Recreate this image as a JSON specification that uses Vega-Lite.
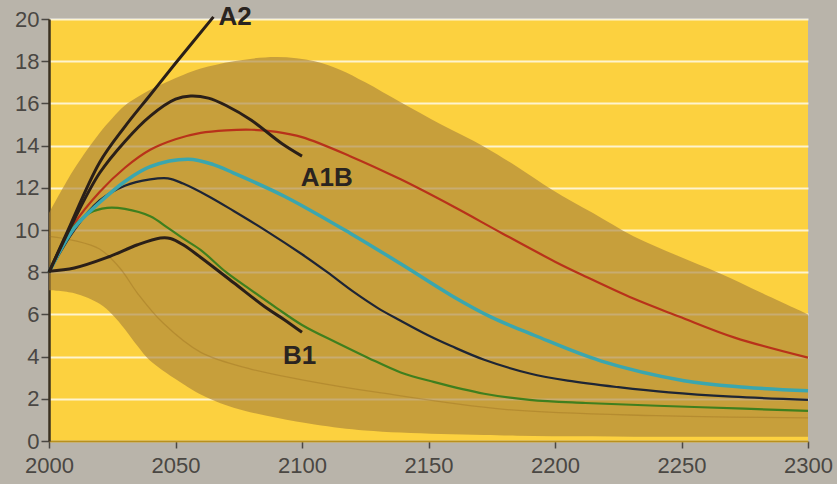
{
  "$schema": "https://vega.github.io/schema/vega-lite/v6.json",
  "width": 759,
  "height": 422,
  "autosize": {"type": "none"},
  "padding": {"left": 49, "top": 19, "right": 29, "bottom": 43},
  "background": "#b9b4aa",
  "config": {"view": {"fill": "#fcd13f", "stroke": null}, "font": "Liberation Sans"},
  "datasets": {
    "band": [
      {"year": 2000, "hi": 10.8, "lo": 7.14},
      {"year": 2010, "hi": 12.9, "lo": 7.0},
      {"year": 2020, "hi": 14.6, "lo": 6.5},
      {"year": 2025, "hi": 15.3, "lo": 6.0},
      {"year": 2030, "hi": 15.9, "lo": 5.3},
      {"year": 2035, "hi": 16.3, "lo": 4.5},
      {"year": 2040, "hi": 16.65, "lo": 3.8},
      {"year": 2053, "hi": 17.35, "lo": 2.7},
      {"year": 2060, "hi": 17.65, "lo": 2.2},
      {"year": 2073, "hi": 18.0, "lo": 1.57},
      {"year": 2090, "hi": 18.2, "lo": 1.1},
      {"year": 2105, "hi": 18.0, "lo": 0.78},
      {"year": 2115, "hi": 17.6, "lo": 0.62},
      {"year": 2125, "hi": 17.0, "lo": 0.5},
      {"year": 2139, "hi": 16.05, "lo": 0.4},
      {"year": 2155, "hi": 15.0, "lo": 0.33},
      {"year": 2172, "hi": 13.95, "lo": 0.28},
      {"year": 2185, "hi": 13.0, "lo": 0.25},
      {"year": 2199, "hi": 11.9, "lo": 0.23},
      {"year": 2215, "hi": 10.8, "lo": 0.22},
      {"year": 2231, "hi": 9.7, "lo": 0.2},
      {"year": 2248, "hi": 8.8, "lo": 0.2},
      {"year": 2265, "hi": 7.95, "lo": 0.2},
      {"year": 2282, "hi": 7.0, "lo": 0.2},
      {"year": 2300, "hi": 6.0, "lo": 0.2}
    ],
    "inner": [
      {"year": 2000, "value": 9.7},
      {"year": 2010, "value": 9.5},
      {"year": 2020, "value": 9.1},
      {"year": 2028, "value": 8.2},
      {"year": 2035, "value": 7.0},
      {"year": 2045, "value": 5.6},
      {"year": 2060, "value": 4.2},
      {"year": 2080, "value": 3.4},
      {"year": 2100, "value": 2.9},
      {"year": 2130, "value": 2.3},
      {"year": 2180, "value": 1.5},
      {"year": 2240, "value": 1.2},
      {"year": 2300, "value": 1.1}
    ],
    "lines": [
      {"series": "A2", "year": 2000, "value": 8.0},
      {"series": "A2", "year": 2007, "value": 9.85},
      {"series": "A2", "year": 2020, "value": 13.2},
      {"series": "A2", "year": 2030, "value": 14.9},
      {"series": "A2", "year": 2040, "value": 16.4},
      {"series": "A2", "year": 2050, "value": 17.9},
      {"series": "A2", "year": 2065, "value": 20.1},

      {"series": "A1B-high", "year": 2000, "value": 8.0},
      {"series": "A1B-high", "year": 2010, "value": 10.5},
      {"series": "A1B-high", "year": 2020, "value": 12.7},
      {"series": "A1B-high", "year": 2030, "value": 14.2},
      {"series": "A1B-high", "year": 2040, "value": 15.4},
      {"series": "A1B-high", "year": 2050, "value": 16.2},
      {"series": "A1B-high", "year": 2056, "value": 16.35},
      {"series": "A1B-high", "year": 2063, "value": 16.25},
      {"series": "A1B-high", "year": 2070, "value": 15.9},
      {"series": "A1B-high", "year": 2080, "value": 15.2},
      {"series": "A1B-high", "year": 2092, "value": 14.1},
      {"series": "A1B-high", "year": 2100, "value": 13.5},

      {"series": "red", "year": 2000, "value": 8.0},
      {"series": "red", "year": 2010, "value": 10.3},
      {"series": "red", "year": 2020, "value": 11.8},
      {"series": "red", "year": 2030, "value": 12.95},
      {"series": "red", "year": 2040, "value": 13.8},
      {"series": "red", "year": 2050, "value": 14.3},
      {"series": "red", "year": 2060, "value": 14.6},
      {"series": "red", "year": 2070, "value": 14.72},
      {"series": "red", "year": 2080, "value": 14.75},
      {"series": "red", "year": 2090, "value": 14.65},
      {"series": "red", "year": 2100, "value": 14.4},
      {"series": "red", "year": 2119, "value": 13.5},
      {"series": "red", "year": 2139, "value": 12.4},
      {"series": "red", "year": 2160, "value": 11.1},
      {"series": "red", "year": 2179, "value": 9.85},
      {"series": "red", "year": 2200, "value": 8.5},
      {"series": "red", "year": 2212, "value": 7.8},
      {"series": "red", "year": 2231, "value": 6.75},
      {"series": "red", "year": 2249, "value": 5.9},
      {"series": "red", "year": 2271, "value": 4.9},
      {"series": "red", "year": 2300, "value": 3.95},

      {"series": "cyan", "year": 2000, "value": 8.0},
      {"series": "cyan", "year": 2010, "value": 10.1},
      {"series": "cyan", "year": 2020, "value": 11.3},
      {"series": "cyan", "year": 2030, "value": 12.3},
      {"series": "cyan", "year": 2040, "value": 13.0},
      {"series": "cyan", "year": 2055, "value": 13.35},
      {"series": "cyan", "year": 2065, "value": 13.1},
      {"series": "cyan", "year": 2073, "value": 12.7},
      {"series": "cyan", "year": 2093, "value": 11.6},
      {"series": "cyan", "year": 2119, "value": 9.85},
      {"series": "cyan", "year": 2139, "value": 8.4},
      {"series": "cyan", "year": 2159, "value": 6.9},
      {"series": "cyan", "year": 2175, "value": 5.86},
      {"series": "cyan", "year": 2192, "value": 5.0},
      {"series": "cyan", "year": 2218, "value": 3.8},
      {"series": "cyan", "year": 2251, "value": 2.86},
      {"series": "cyan", "year": 2275, "value": 2.55},
      {"series": "cyan", "year": 2300, "value": 2.38},

      {"series": "navy", "year": 2000, "value": 8.0},
      {"series": "navy", "year": 2010, "value": 10.0},
      {"series": "navy", "year": 2020, "value": 11.4},
      {"series": "navy", "year": 2030, "value": 12.1},
      {"series": "navy", "year": 2040, "value": 12.4},
      {"series": "navy", "year": 2047, "value": 12.45},
      {"series": "navy", "year": 2053, "value": 12.2},
      {"series": "navy", "year": 2063, "value": 11.6},
      {"series": "navy", "year": 2073, "value": 10.9},
      {"series": "navy", "year": 2086, "value": 9.95},
      {"series": "navy", "year": 2100, "value": 8.85},
      {"series": "navy", "year": 2110, "value": 8.0},
      {"series": "navy", "year": 2120, "value": 7.1},
      {"series": "navy", "year": 2130, "value": 6.3},
      {"series": "navy", "year": 2139, "value": 5.7},
      {"series": "navy", "year": 2150, "value": 5.0},
      {"series": "navy", "year": 2159, "value": 4.5},
      {"series": "navy", "year": 2172, "value": 3.85},
      {"series": "navy", "year": 2190, "value": 3.2},
      {"series": "navy", "year": 2205, "value": 2.86},
      {"series": "navy", "year": 2225, "value": 2.55},
      {"series": "navy", "year": 2245, "value": 2.3},
      {"series": "navy", "year": 2270, "value": 2.1},
      {"series": "navy", "year": 2300, "value": 1.95},

      {"series": "green", "year": 2000, "value": 8.0},
      {"series": "green", "year": 2008, "value": 9.9},
      {"series": "green", "year": 2016, "value": 10.8},
      {"series": "green", "year": 2023, "value": 11.05},
      {"series": "green", "year": 2030, "value": 11.0},
      {"series": "green", "year": 2040, "value": 10.65},
      {"series": "green", "year": 2047, "value": 10.1},
      {"series": "green", "year": 2053, "value": 9.6},
      {"series": "green", "year": 2060, "value": 9.05},
      {"series": "green", "year": 2070, "value": 8.0},
      {"series": "green", "year": 2080, "value": 7.14},
      {"series": "green", "year": 2090, "value": 6.3},
      {"series": "green", "year": 2100, "value": 5.5},
      {"series": "green", "year": 2113, "value": 4.7},
      {"series": "green", "year": 2126, "value": 3.95},
      {"series": "green", "year": 2139, "value": 3.25},
      {"series": "green", "year": 2152, "value": 2.8},
      {"series": "green", "year": 2172, "value": 2.24},
      {"series": "green", "year": 2190, "value": 1.95},
      {"series": "green", "year": 2212, "value": 1.8},
      {"series": "green", "year": 2258, "value": 1.6},
      {"series": "green", "year": 2300, "value": 1.43},

      {"series": "B1", "year": 2000, "value": 8.05},
      {"series": "B1", "year": 2010, "value": 8.2},
      {"series": "B1", "year": 2023, "value": 8.7},
      {"series": "B1", "year": 2035, "value": 9.3},
      {"series": "B1", "year": 2044, "value": 9.62},
      {"series": "B1", "year": 2048, "value": 9.6},
      {"series": "B1", "year": 2053, "value": 9.3},
      {"series": "B1", "year": 2060, "value": 8.7},
      {"series": "B1", "year": 2073, "value": 7.5},
      {"series": "B1", "year": 2086, "value": 6.3},
      {"series": "B1", "year": 2093, "value": 5.75},
      {"series": "B1", "year": 2100, "value": 5.15}
    ],
    "labels": [
      {"label": "A2", "year": 2067, "value": 20.1},
      {"label": "A1B", "year": 2099.5, "value": 12.45},
      {"label": "B1", "year": 2092.5, "value": 4.05}
    ]
  },
  "encoding": {
    "x": {
      "field": "year", "type": "quantitative",
      "scale": {"domain": [2000, 2300], "nice": false, "zero": false},
      "axis": {
        "title": null, "values": [2000, 2050, 2100, 2150, 2200, 2250, 2300], "format": "d",
        "grid": false, "tickSize": 7, "tickColor": "#4a4743", "tickWidth": 1.5,
        "domainColor": "#b8901e", "domainWidth": 2,
        "labelFontSize": 22, "labelColor": "#4a4743", "labelPadding": 7, "labelFlush": false
      }
    },
    "y": {
      "field": "value", "type": "quantitative",
      "scale": {"domain": [0, 20], "nice": false},
      "axis": {
        "title": null, "values": [0, 2, 4, 6, 8, 10, 12, 14, 16, 18, 20],
        "grid": true, "gridColor": "#ffffff", "gridOpacity": 0.75, "gridWidth": 2,
        "tickSize": 8, "tickColor": "#4a4743", "tickWidth": 1.5,
        "domainColor": "#3a3020", "domainWidth": 2.5,
        "labelFontSize": 22, "labelColor": "#4a4743", "labelPadding": 2
      }
    }
  },
  "layer": [
    {
      "data": {"name": "band"},
      "mark": {"type": "area", "color": "#a77f39", "opacity": 0.62, "interpolate": "catmull-rom"},
      "encoding": {"y": {"field": "hi", "type": "quantitative"}, "y2": {"field": "lo"}}
    },
    {
      "data": {"name": "inner"},
      "mark": {"type": "line", "color": "#9a7020", "strokeWidth": 1.3, "opacity": 0.4, "interpolate": "catmull-rom"},
      "encoding": {}
    },
    {
      "data": {"name": "lines"},
      "transform": [{"filter": {"field": "series", "oneOf": ["red", "navy", "green"]}}],
      "mark": {"type": "line", "strokeWidth": 2.2, "interpolate": "catmull-rom"},
      "encoding": {
        "color": {"field": "series", "type": "nominal", "legend": null,
          "scale": {"domain": ["red", "navy", "green", "cyan", "A2", "A1B-high", "B1"],
                    "range": ["#b8321a", "#1e2535", "#3f7f1e", "#3ba6ae", "#2a1f18", "#2a1f18", "#2a1f18"]}}
      }
    },
    {
      "data": {"name": "lines"},
      "transform": [{"filter": {"field": "series", "oneOf": ["cyan"]}}],
      "mark": {"type": "line", "strokeWidth": 3.5, "interpolate": "catmull-rom"},
      "encoding": {
        "color": {"field": "series", "type": "nominal", "legend": null}
      }
    },
    {
      "data": {"name": "lines"},
      "transform": [{"filter": {"field": "series", "oneOf": ["A2", "A1B-high", "B1"]}}],
      "mark": {"type": "line", "strokeWidth": 3, "interpolate": "catmull-rom"},
      "encoding": {
        "color": {"field": "series", "type": "nominal", "legend": null}
      }
    },
    {
      "data": {"name": "labels"},
      "mark": {"type": "text", "align": "left", "baseline": "middle", "fontSize": 26, "fontWeight": "bold", "color": "#2a2420"},
      "encoding": {"text": {"field": "label"}}
    }
  ]
}
